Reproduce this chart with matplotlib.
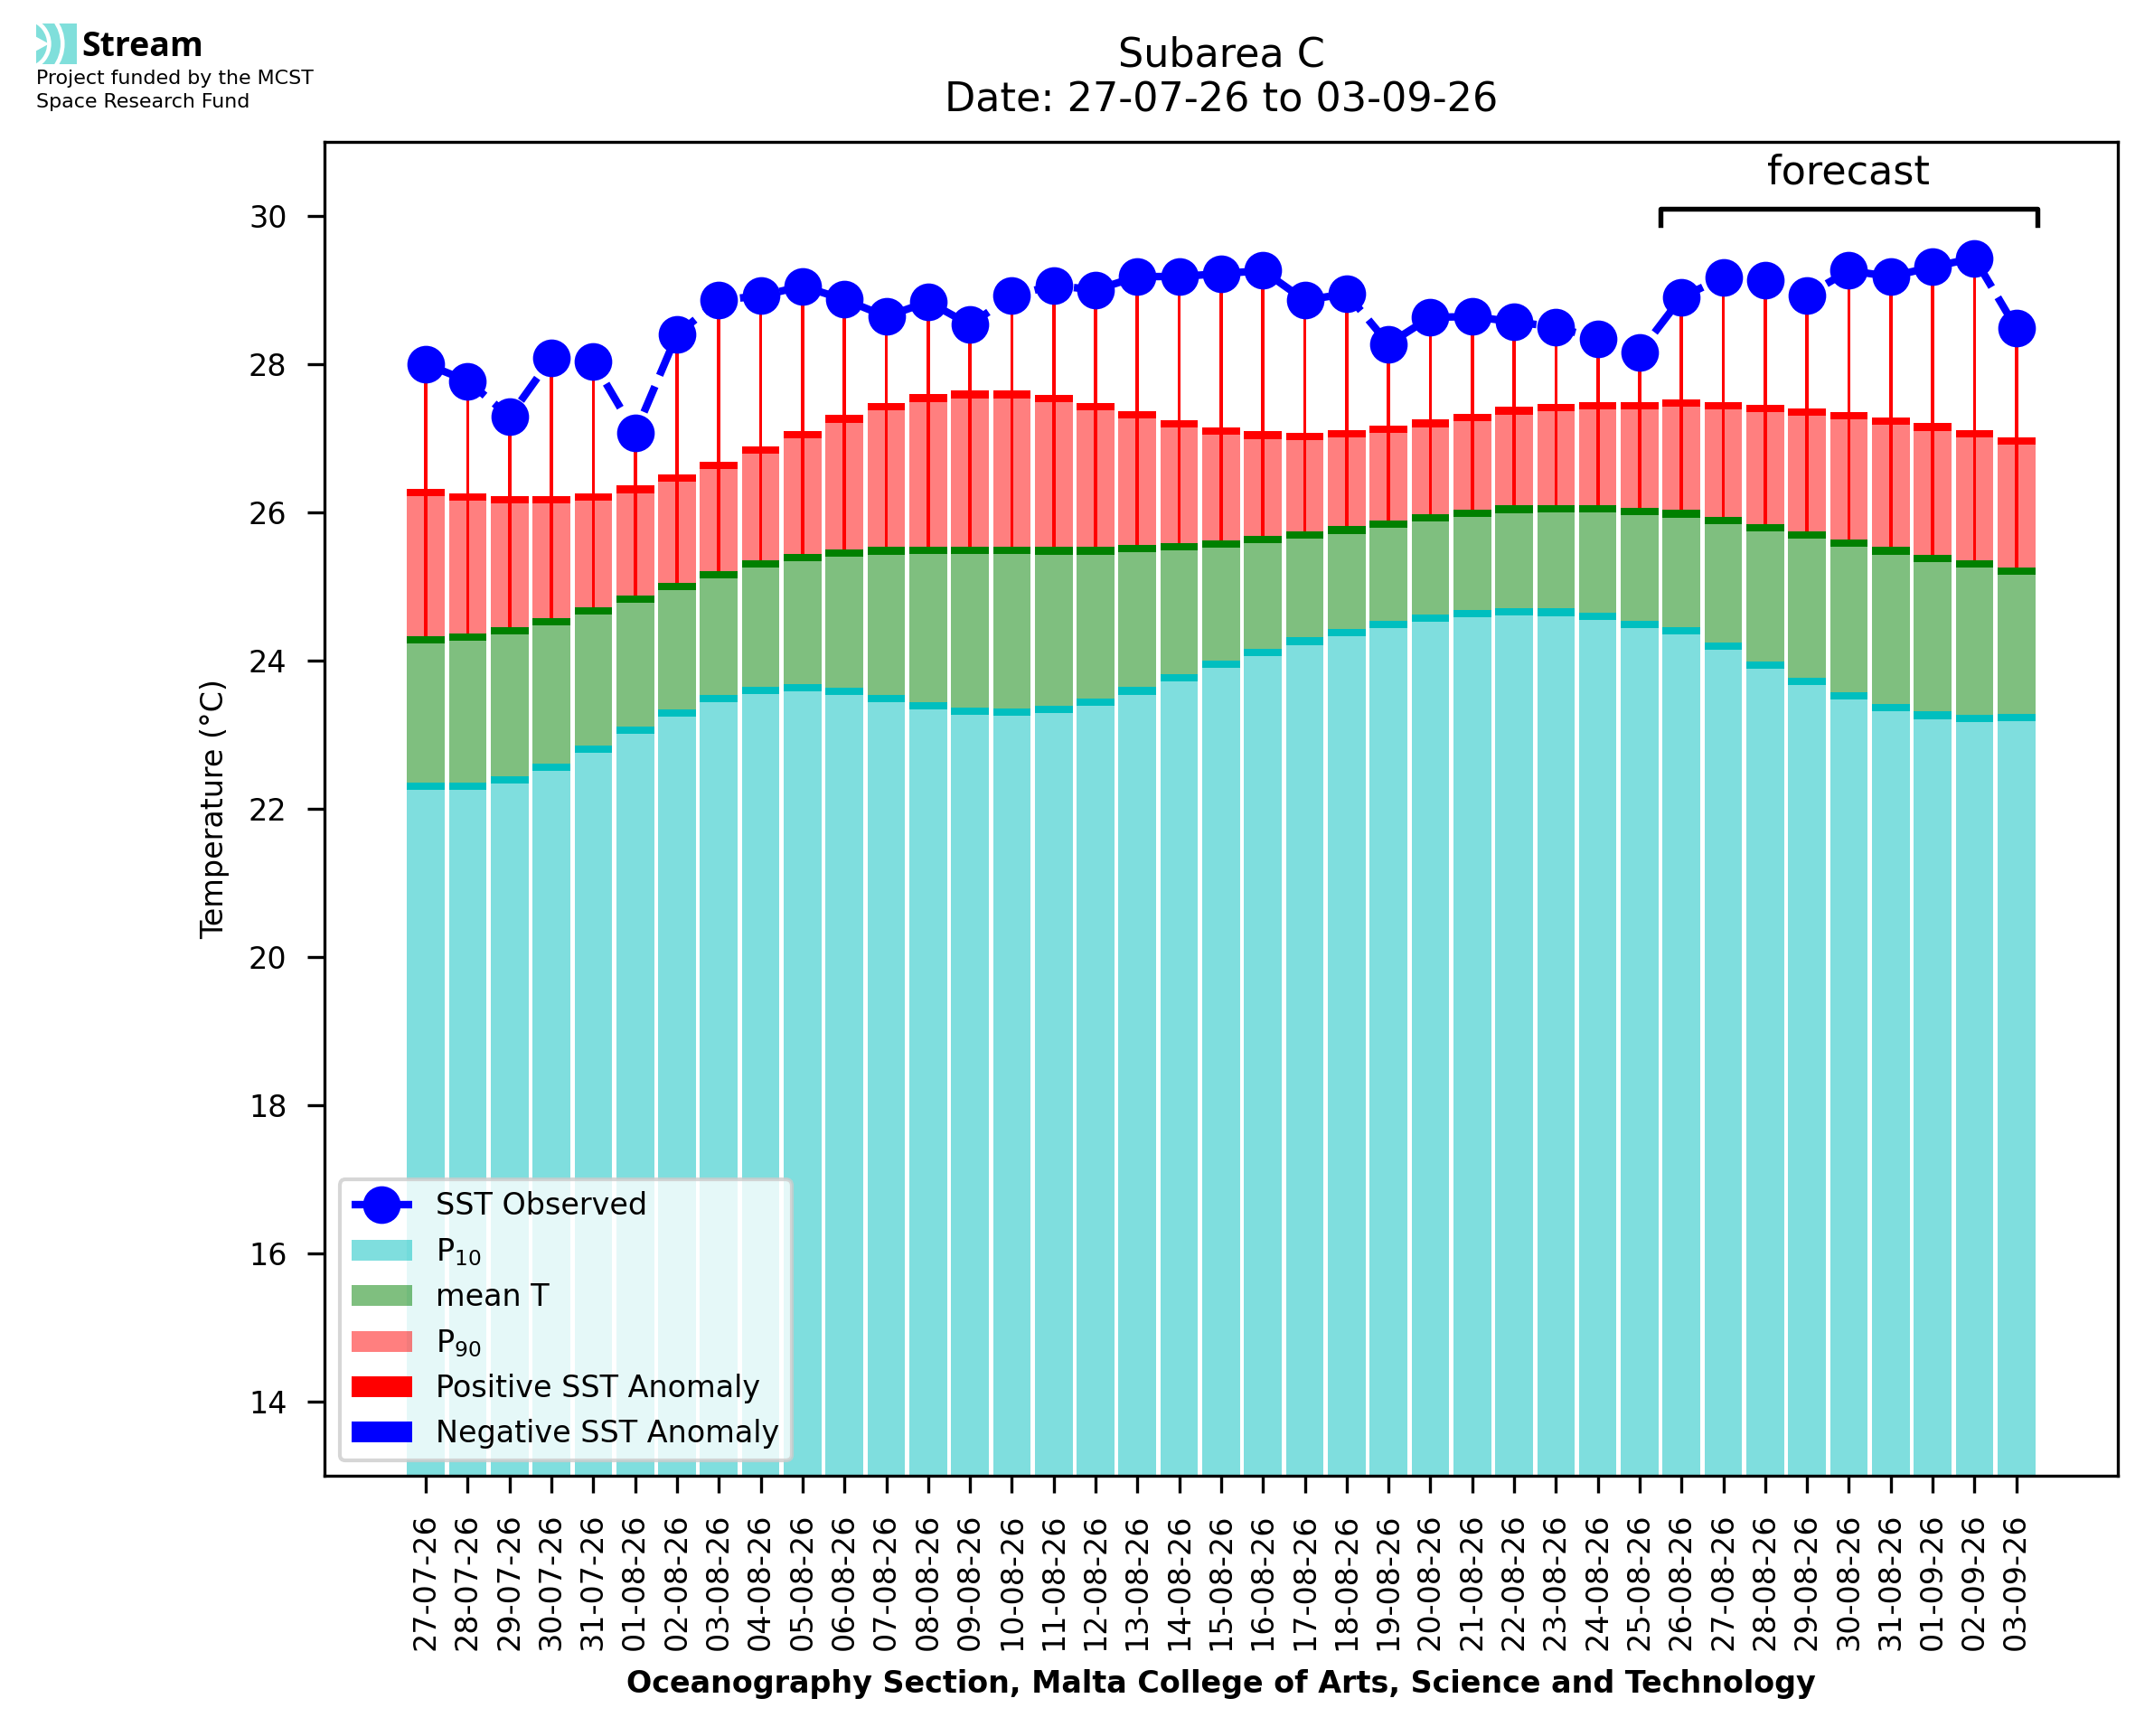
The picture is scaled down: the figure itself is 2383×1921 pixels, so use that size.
import matplotlib
matplotlib.use('Agg')
import matplotlib.pyplot as plt
import numpy as np
from matplotlib.patches import Patch, Rectangle, Arc, Polygon
from matplotlib.lines import Line2D

plt.rcParams['font.size'] = 8

# daily labels
dates = ['27-07-26', '28-07-26', '29-07-26', '30-07-26', '31-07-26',
         '01-08-26', '02-08-26', '03-08-26', '04-08-26', '05-08-26',
         '06-08-26', '07-08-26', '08-08-26', '09-08-26', '10-08-26',
         '11-08-26', '12-08-26', '13-08-26', '14-08-26', '15-08-26',
         '16-08-26', '17-08-26', '18-08-26', '19-08-26', '20-08-26',
         '21-08-26', '22-08-26', '23-08-26', '24-08-26', '25-08-26',
         '26-08-26', '27-08-26', '28-08-26', '29-08-26', '30-08-26',
         '31-08-26', '01-09-26', '02-09-26', '03-09-26']
forecast_start = '26-08-26'

# observed / forecast SST
sst_obs = [28.00, 27.77, 27.29, 28.08, 28.03, 27.07, 28.40, 28.86, 28.92, 29.05,
           28.87, 28.64, 28.84, 28.53, 28.92, 29.06, 29.00, 29.18, 29.18, 29.22,
           29.26, 28.86, 28.95, 28.27, 28.63, 28.64, 28.57, 28.50, 28.34, 28.16,
           28.90, 29.17, 29.13, 28.93, 29.26, 29.18, 29.31, 29.43, 28.48]

# climatology
p10 = [22.35, 22.35, 22.44, 22.61, 22.85, 23.11, 23.34, 23.54, 23.65, 23.68,
       23.63, 23.54, 23.44, 23.37, 23.35, 23.39, 23.49, 23.64, 23.82, 24.00,
       24.16, 24.31, 24.43, 24.54, 24.62, 24.68, 24.71, 24.70, 24.65, 24.54,
       24.45, 24.24, 23.99, 23.77, 23.57, 23.41, 23.31, 23.27, 23.28]
mean_t = [24.33, 24.37, 24.45, 24.57, 24.72, 24.88, 25.05, 25.21, 25.35, 25.44,
          25.50, 25.53, 25.54, 25.54, 25.54, 25.53, 25.53, 25.56, 25.58, 25.62,
          25.68, 25.74, 25.81, 25.89, 25.97, 26.04, 26.09, 26.10, 26.10, 26.06,
          26.03, 25.94, 25.84, 25.74, 25.63, 25.53, 25.43, 25.35, 25.26]
p90 = [26.32, 26.26, 26.22, 26.22, 26.26, 26.36, 26.51, 26.68, 26.89, 27.10,
       27.31, 27.47, 27.59, 27.64, 27.64, 27.58, 27.47, 27.36, 27.24, 27.15,
       27.09, 27.07, 27.11, 27.17, 27.25, 27.33, 27.42, 27.46, 27.49, 27.49,
       27.52, 27.49, 27.45, 27.40, 27.35, 27.28, 27.20, 27.11, 27.01]

x = np.arange(len(dates))
sst = np.array(sst_obs)
lo = np.array(p10)
mid = np.array(mean_t)
hi = np.array(p90)
anom = sst - mid

fig = plt.figure(figsize=(2383 / 300, 1921 / 300), dpi=300)
ax = fig.add_axes([0.1507, 0.1499, 0.8326, 0.7685])

w = 0.9
band = 0.1
# stacked climatology bars with a darker strip on top of each
ax.bar(x, lo, w, color='c', alpha=0.5, zorder=1)
ax.bar(x, band, w, bottom=lo - band, color='c', zorder=1)
ax.bar(x, mid - lo, w, bottom=lo, color='g', alpha=0.5, zorder=1)
ax.bar(x, band, w, bottom=mid - band, color='g', zorder=1)
ax.bar(x, hi - mid, w, bottom=mid, color='r', alpha=0.5, zorder=1)
ax.bar(x, band, w, bottom=hi - band, color='r', zorder=1)

# anomaly sticks
cols = np.where(anom >= 0, 'r', 'b')
ax.bar(x, anom, 0.08, bottom=mid, color=cols, zorder=2)

ax.plot(x, sst, color='b', ls='--', lw=2, marker='o', ms=9, zorder=3)

# forecast bracket
i0 = dates.index(forecast_start) - 0.5
i1 = len(dates) - 0.5
ax.plot([i0, i0, i1, i1], [29.88, 30.1, 30.1, 29.88], color='k', lw=1.3)
ax.text((i0 + i1) / 2, 30.43, 'forecast', ha='center', va='baseline', fontsize=10.7)

ax.set_xlim(-2.42, 40.43)
ax.set_ylim(13, 31)
ax.set_yticks(np.arange(14, 31, 2))
ax.set_xticks(x)
ax.set_xticklabels(dates, rotation=90)
ax.tick_params(length=4.5, pad=5.5)

ax.set_title('Subarea C\nDate: 27-07-26 to 03-09-26', fontsize=10.7, pad=8)
ax.set_ylabel('Temperature (°C)', labelpad=5)
ax.set_xlabel('Oceanography Section, Malta College of Arts, Science and Technology',
              fontweight='bold', labelpad=5)

handles = [Line2D([], [], color='b', ls='--', lw=2, marker='o', ms=9),
           Patch(facecolor='c', alpha=0.5),
           Patch(facecolor='g', alpha=0.5),
           Patch(facecolor='r', alpha=0.5),
           Patch(facecolor='r'),
           Patch(facecolor='b')]
labels = ['SST Observed', 'P$_{10}$', 'mean T', 'P$_{90}$',
          'Positive SST Anomaly', 'Negative SST Anomaly']
ax.legend(handles, labels, loc='lower left')

# logo
lax = fig.add_axes([40 / 2383, 1 - 71 / 1921, 45 / 2383, 45 / 1921])
lax.set_xlim(0, 1)
lax.set_ylim(0, 1)
lax.axis('off')
lax.add_patch(Rectangle((0, 0), 1, 1, color='#80dfdb'))
lax.add_patch(Polygon([(0, 0.62), (0.22, 0.5), (0, 0.38)], color='white'))
for r in (0.62, 0.95):
    lax.add_patch(Arc((-0.3, 0.5), 2 * r, 2 * r, theta1=-75, theta2=75,
                      color='white', lw=1.1))
fig.text(90 / 2383, 1 - 62 / 1921, 'Stream', family='Open Sans',
         fontweight='bold', fontsize=9, va='baseline')
fig.text(40 / 2383, 1 - 77 / 1921, 'Project funded by the MCST\nSpace Research Fund',
         fontsize=5.3, va='top', linespacing=1.35)

fig.savefig('out.png', dpi=300)
